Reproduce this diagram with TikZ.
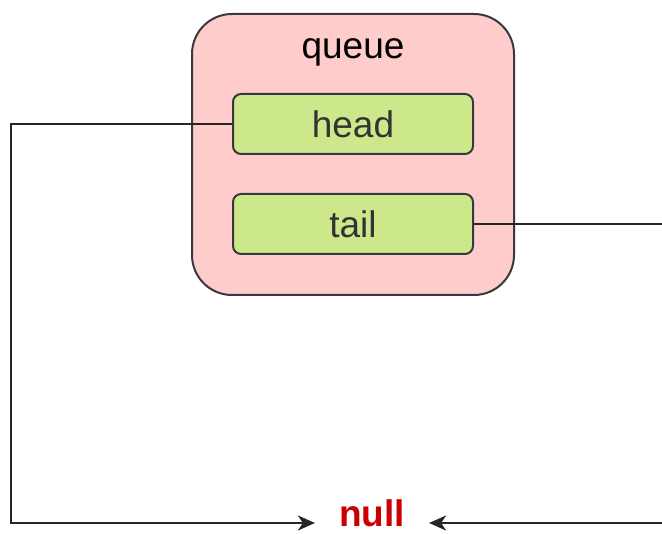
\documentclass[tikz,border=0pt]{standalone}
\usepackage{fontspec}
\setmainfont{Liberation Sans}
\usetikzlibrary{arrows.meta, positioning}

\definecolor{queuefill}{HTML}{FFCCCC}
\definecolor{fieldfill}{HTML}{CDE88A}
\definecolor{edgegray}{HTML}{36393D}
\definecolor{nullred}{HTML}{CC0000}

\begin{document}
\begin{tikzpicture}[x=1pt, y=-1pt,
  every node/.style={font=\fontsize{37}{44}\selectfont, align=center},
  box/.style={draw=edgegray, line width=2pt, rounded corners=40pt, fill=queuefill, minimum width=322pt, minimum height=281pt},
  field/.style={draw=edgegray, line width=2pt, rounded corners=8pt, fill=fieldfill, minimum width=240pt, minimum height=60pt, text=black!80},
  link/.style={draw=black!85, line width=2.5pt, -{Stealth[length=17pt, width=15pt, inset=5pt]}}]
  \clip (0,0) rectangle (662,534);

  % Queue container
  \node (queue) [box] at (353,154.5) {};
  \node (queuelbl) at (353,52) {queue};
  \node (head) [field] at (353,124) {head};
  \node (tail) [field] at (353,224) {tail};

  % Null target
  \node (null) [text=nullred, font=\fontsize{37}{44}\selectfont\bfseries, inner xsep=24pt, inner ysep=0pt] at (372,513) {null};

  % Pointers
  \draw[link] (head.west) -- ++(-221,0) |- ([yshift=-10pt]null.west);
  \draw[link] (tail.east) -- ++(195,0) |- ([yshift=-10pt]null.east);
\end{tikzpicture}
\end{document}
